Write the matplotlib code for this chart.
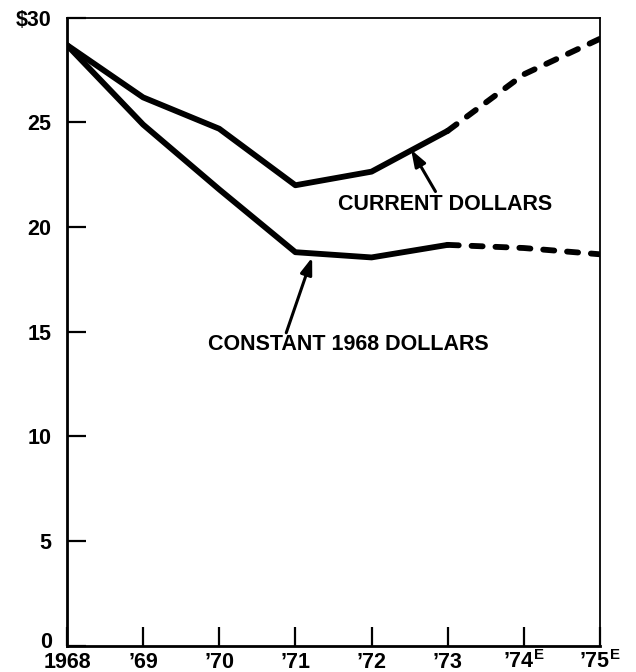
import matplotlib
matplotlib.use("Agg")
import matplotlib.pyplot as plt
from matplotlib.transforms import ScaledTranslation

plt.rcParams['font.family'] = ['Liberation Sans', 'DejaVu Sans']
plt.rcParams['font.weight'] = 'bold'
plt.rcParams['mathtext.fontset'] = 'custom'
plt.rcParams['mathtext.rm'] = 'Liberation Sans'

years = [1968, 1969, 1970, 1971, 1972, 1973, 1974, 1975]
current_dollars = [28.7, 26.2, 24.7, 22.0, 22.65, 24.6, 27.3, 29.0]
constant_dollars = [28.7, 24.9, 21.8, 18.8, 18.55, 19.15, 19.0, 18.7]
last_actual = 5  # index of '73, estimates follow

x_labels = ['1968', '’69', '’70', '’71', '’72', '’73',
            '’74$^{\\mathrm{E}}$', '’75$^{\\mathrm{E}}$']
y_ticks = [0, 5, 10, 15, 20, 25, 30]
y_labels = ['0', '5', '10', '15', '20', '25', '$30']

fig = plt.figure(figsize=(6.36, 6.72), dpi=100)
ax = fig.add_axes([0.1053, 0.0394, 0.838, 0.934])

line_kw = dict(color='black', lw=4.2, solid_capstyle='round',
               solid_joinstyle='round', dash_capstyle='round')

for series in (current_dollars, constant_dollars):
    ax.plot(years[:last_actual + 1], series[:last_actual + 1], **line_kw)
    ax.plot(years[last_actual:], series[last_actual:], dashes=(1.9, 2.2), **line_kw)

arrow_kw = dict(arrowstyle='-|>,head_length=1.0,head_width=0.35', color='black',
                lw=2.2, shrinkA=0, shrinkB=0)
ax.annotate('', xy=(1972.52, 23.7), xytext=(1972.84, 21.7), arrowprops=arrow_kw)
ax.text(1972.96, 21.08, 'CURRENT DOLLARS', ha='center', va='center', fontsize=15.5)
ax.annotate('', xy=(1971.22, 18.55), xytext=(1970.88, 14.95), arrowprops=arrow_kw)
ax.text(1971.70, 14.38, 'CONSTANT 1968 DOLLARS', ha='center', va='center', fontsize=15.5)

ax.set_xlim(1968, 1975)
ax.set_ylim(0, 30)
ax.set_xticks(years)
ax.set_xticklabels(x_labels, fontsize=15.5)
ax.set_yticks(y_ticks)
ax.set_yticklabels(y_labels, fontsize=15.5)
ax.tick_params(axis='both', direction='in', length=14, width=1.6, color='black')
ax.tick_params(axis='y', pad=11)
ax.tick_params(axis='x', pad=16)
for lab in ax.get_xticklabels():
    lab.set_verticalalignment('baseline')

# lift the "0" a touch so it clears "1968"
zero = ax.get_yticklabels()[0]
zero.set_transform(zero.get_transform() + ScaledTranslation(0, 4 / 72, fig.dpi_scale_trans))

ax.spines['left'].set_linewidth(2.0)
ax.spines['bottom'].set_linewidth(2.0)
ax.spines['top'].set_linewidth(1.3)
ax.spines['right'].set_linewidth(1.3)

fig.savefig('out.png', dpi=100)
